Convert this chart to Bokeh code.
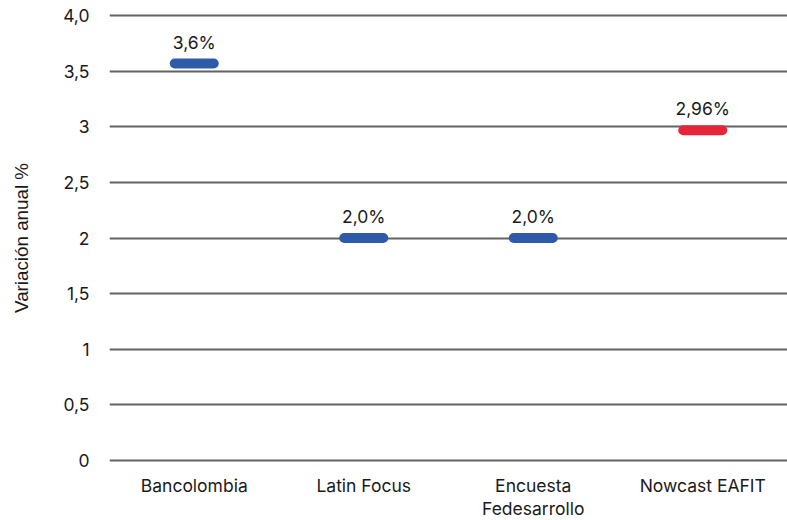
from bokeh.plotting import figure
from bokeh.models import ColumnDataSource, FixedTicker, Range1d
from bokeh.transform import dodge
from bokeh.core.properties import value
from bokeh.embed import file_html
from bokeh.resources import INLINE

categories = ["Bancolombia", "Latin Focus", "Encuesta\nFedesarrollo", "Nowcast EAFIT"]
values = [3.57, 2.0, 2.0, 2.97]
labels = ["3,6%", "2,0%", "2,0%", "2,96%"]
colors = ["#2E5BA9", "#2E5BA9", "#2E5BA9", "#E6243A"]
y_ticks = [0, 0.5, 1, 1.5, 2, 2.5, 3, 3.5, 4]
y_tick_labels = ["0", "0,5", "1", "1,5", "2", "2,5", "3", "3,5", "4,0"]

src = ColumnDataSource(dict(cat=categories, val=values, lab=labels, col=colors))

p = figure(frame_width=678, frame_height=449, x_range=categories, y_range=Range1d(-0.02, 4.02),
           output_backend="svg", toolbar_location=None,
           min_border_left=109, min_border_right=0, min_border_top=13, min_border_bottom=0)
p.outline_line_color = None
p.background_fill_color = "white"
p.border_fill_color = "white"

p.xgrid.grid_line_color = None
p.ygrid.grid_line_color = "#626262"
p.ygrid.grid_line_width = 2.2
p.yaxis.ticker = FixedTicker(ticks=y_ticks)
p.yaxis.major_label_overrides = {t: l for t, l in zip(y_ticks, y_tick_labels)}

for ax in (p.xaxis, p.yaxis):
    ax.axis_line_color = None
    ax.major_tick_line_color = None
    ax.minor_tick_line_color = None
    ax.major_label_text_font = "Inter"
    ax.major_label_text_font_size = "17.5px"
    ax.major_label_text_color = "#1a1a1a"

p.xaxis.major_label_text_line_height = 1.1
p.yaxis.major_label_standoff = 14
p.xaxis.major_label_standoff = 6
p.yaxis.axis_label = "Variación anual %"
p.yaxis.axis_label_text_font = "Liberation Sans"
p.yaxis.axis_label_text_font_style = "normal"
p.yaxis.axis_label_text_font_size = "18.8px"
p.yaxis.axis_label_text_color = "#1a1a1a"
p.yaxis.axis_label_standoff = 28

p.segment(x0=dodge("cat", -0.115, range=p.x_range), y0="val",
          x1=dodge("cat", 0.115, range=p.x_range), y1="val",
          line_color="col", line_width=10, line_cap="round", source=src)

p.text(x="cat", y="val", text="lab", source=src, text_align="center",
       text_baseline="bottom", y_offset=-11, text_font=value("Inter"),
       text_font_size="17.5px", text_color="#1a1a1a")

open("out.html", "w").write(file_html(p, INLINE))
